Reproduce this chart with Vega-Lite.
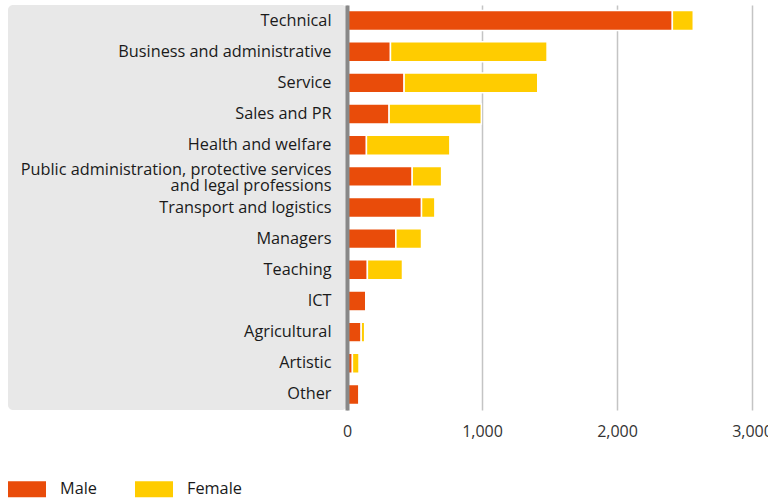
{
  "$schema": "https://vega.github.io/schema/vega-lite/v6.json",
  "padding": {"left": 8, "top": 5, "right": 0, "bottom": 0},
  "autosize": {"type": "pad"},
  "bounds": "flush",
  "datasets": {
    "d": [
      {"occupation": "Technical", "gender": "Male", "count": 2410},
      {"occupation": "Technical", "gender": "Female", "count": 155},
      {"occupation": "Business and administrative", "gender": "Male", "count": 322},
      {"occupation": "Business and administrative", "gender": "Female", "count": 1160},
      {"occupation": "Service", "gender": "Male", "count": 423},
      {"occupation": "Service", "gender": "Female", "count": 990},
      {"occupation": "Sales and PR", "gender": "Male", "count": 312},
      {"occupation": "Sales and PR", "gender": "Female", "count": 683},
      {"occupation": "Health and welfare", "gender": "Male", "count": 144},
      {"occupation": "Health and welfare", "gender": "Female", "count": 618},
      {"occupation": "Public administration, protective services and legal professions", "gender": "Male", "count": 483},
      {"occupation": "Public administration, protective services and legal professions", "gender": "Female", "count": 218},
      {"occupation": "Transport and logistics", "gender": "Male", "count": 552},
      {"occupation": "Transport and logistics", "gender": "Female", "count": 99},
      {"occupation": "Managers", "gender": "Male", "count": 362},
      {"occupation": "Managers", "gender": "Female", "count": 190},
      {"occupation": "Teaching", "gender": "Male", "count": 151},
      {"occupation": "Teaching", "gender": "Female", "count": 260},
      {"occupation": "ICT", "gender": "Male", "count": 139},
      {"occupation": "ICT", "gender": "Female", "count": 0},
      {"occupation": "Agricultural", "gender": "Male", "count": 105},
      {"occupation": "Agricultural", "gender": "Female", "count": 26},
      {"occupation": "Artistic", "gender": "Male", "count": 40},
      {"occupation": "Artistic", "gender": "Female", "count": 49},
      {"occupation": "Other", "gender": "Male", "count": 89},
      {"occupation": "Other", "gender": "Female", "count": 0}
    ]
  },
  "data": {"name": "d"},
  "config": {
    "font": "Open Sans",
    "view": {"stroke": null},
    "concat": {"spacing": 0}
  },
  "spacing": 0,
  "hconcat": [
    {
      "width": 339,
      "height": 405,
      "view": {"fill": "#e8e8e8", "stroke": null, "cornerRadius": 5},
      "transform": [{"filter": "datum.gender == 'Male'"}],
      "mark": {"type": "bar", "opacity": 0},
      "encoding": {
        "y": {
          "field": "occupation",
          "type": "nominal",
          "sort": ["Technical", "Business and administrative", "Service", "Sales and PR", "Health and welfare", "Public administration, protective services and legal professions", "Transport and logistics", "Managers", "Teaching", "ICT", "Agricultural", "Artistic", "Other"],
          "scale": {"paddingInner": 0.36, "paddingOuter": 0.18},
          "axis": {
            "orient": "right",
            "title": null,
            "domain": false,
            "ticks": false,
            "grid": false,
            "minExtent": 0,
            "maxExtent": 0,
            "labelAlign": "right",
            "labelPadding": -16,
            "labelFontSize": 16.3,
            "labelColor": "#1a1a1a",
            "labelLimit": 400,
            "labelLineHeight": 16,
            "labelOffset": {"condition": {"test": "length(datum.label) > 40", "value": -6}, "value": 0},
            "labelExpr": "datum.label == 'Public administration, protective services and legal professions' ? ['Public administration, protective services', 'and legal professions'] : datum.label"
          }
        }
      }
    },
    {
      "width": 405,
      "height": 405,
      "mark": {"type": "bar", "stroke": "white", "strokeWidth": 1.5},
      "encoding": {
        "y": {
          "field": "occupation",
          "type": "nominal",
          "sort": ["Technical", "Business and administrative", "Service", "Sales and PR", "Health and welfare", "Public administration, protective services and legal professions", "Transport and logistics", "Managers", "Teaching", "ICT", "Agricultural", "Artistic", "Other"],
          "scale": {"paddingInner": 0.36, "paddingOuter": 0.18},
          "axis": {"title": null, "labels": false, "ticks": false, "grid": false, "domain": true, "domainColor": "#888888", "domainWidth": 4, "zindex": 1, "minExtent": 0, "maxExtent": 0}
        },
        "x": {
          "field": "count",
          "type": "quantitative",
          "stack": "zero",
          "scale": {"domain": [0, 3000], "nice": false},
          "axis": {"title": null, "values": [0, 1000, 2000, 3000], "format": ",.0f", "grid": true, "gridColor": "#c4c4c4", "gridWidth": 1.5, "domain": false, "ticks": false, "labelPadding": 13, "labelFontSize": 16, "labelColor": "#333333", "labelFlush": false}
        },
        "color": {
          "field": "gender",
          "type": "nominal",
          "scale": {"domain": ["Male", "Female"], "range": ["#e94c0a", "#ffcc00"]},
          "legend": {
            "title": null,
            "orient": "none",
            "legendX": 0,
            "legendY": 465,
            "direction": "horizontal",
            "symbolType": "M-1,-0.42H1V0.42H-1Z",
            "symbolSize": 1444,
            "symbolStrokeWidth": 0,
            "symbolOpacity": 1,
            "labelFontSize": 16.3,
            "labelColor": "#1a1a1a",
            "labelOffset": 14,
            "columnPadding": 38,
            "padding": 0
          }
        },
        "order": {"field": "gender", "sort": "descending"}
      }
    }
  ]
}
